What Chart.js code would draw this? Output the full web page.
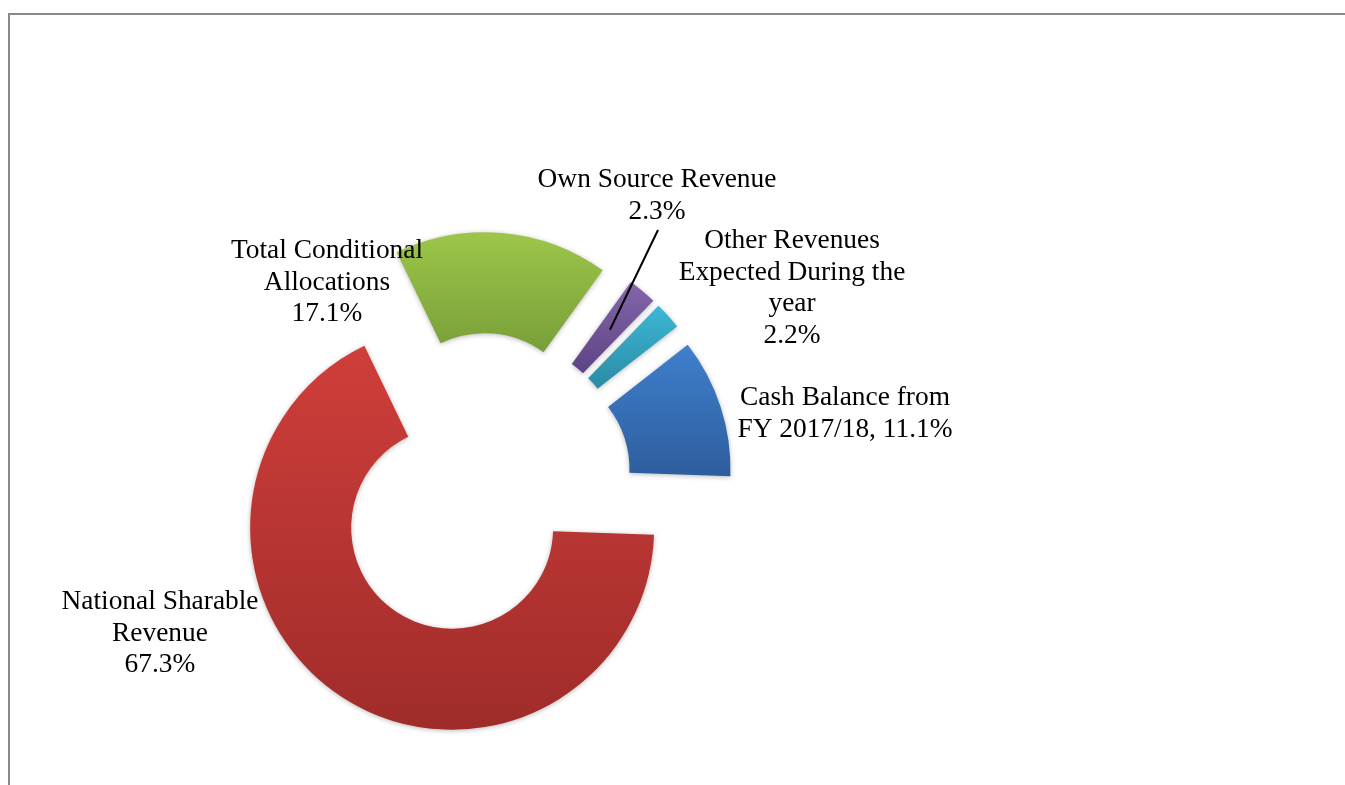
<!DOCTYPE html>
<html lang="en">
<head>
    <meta charset="UTF-8">
    <title>Sources of Revenue</title>
    <script src="https://cdn.jsdelivr.net/npm/chart.js"></script>
    <style>
        html, body {
            margin: 0;
            padding: 0;
            background: #fff;
            overflow: hidden;
        }
        .frame {
            position: absolute;
            left: 8px;
            top: 13px;
            width: 1400px;
            height: 800px;
            border-top: 2px solid #8a8a8a;
            border-left: 2px solid #8a8a8a;
        }
        .chart-box {
            position: absolute;
            left: 0;
            top: 0;
            width: 1345px;
            height: 785px;
        }
    </style>
</head>
<body>
    <div class="frame"></div>
    <div class="chart-box">
        <canvas id="revenueChart"></canvas>
    </div>

    <script>
        // Revenue sources (share of total, %)
        const categories = [
            'Cash Balance from FY 2017/18',
            'National Sharable Revenue',
            'Total Conditional Allocations',
            'Own Source Revenue',
            'Other Revenues Expected During the year'
        ];
        const shares = [11.1, 67.3, 17.1, 2.3, 2.2];

        // How each data label is wrapped; {v} is replaced by the share
        const labelLines = [
            ['Cash Balance from', 'FY 2017/18, {v}'],
            ['National Sharable', 'Revenue', '{v}'],
            ['Total Conditional', 'Allocations', '{v}'],
            ['Own Source Revenue', '{v}'],
            ['Other Revenues', 'Expected During the', 'year', '{v}']
        ];

        // Gradient colours per slice (top -> bottom)
        const topColors = ['#3f7fcc', '#cf3e3a', '#9dc649', '#8466aa', '#3db7d6'];
        const bottomColors = ['#2d5e9e', '#9f2c2a', '#789f38', '#5e4484', '#2a8ba3'];

        // Label placement relative to the doughnut centre: [dx, first baseline dy]
        const labelAnchor = [[365, -80], [-320, 124], [-153, -227], [177, -298], [312, -237]];
        const leaderFrom = { index: 3, dx: 178, dy: -255 };

        const EXPLODE = 51;
        const FONT = '27.4px "Liberation Serif", "Times New Roman", serif';
        const LINE_H = 31.6;

        // Pushes every slice out along its middle angle and gives it a vertical gradient
        const explodePlugin = {
            id: 'explode',
            afterUpdate(chart) {
                const ctx = chart.ctx;
                chart.getDatasetMeta(0).data.forEach((arc, i) => {
                    const mid = (arc.startAngle + arc.endAngle) / 2;
                    arc.x += Math.cos(mid) * EXPLODE;
                    arc.y += Math.sin(mid) * EXPLODE;

                    let minY = Infinity, maxY = -Infinity;
                    for (let k = 0; k <= 60; k++) {
                        const a = arc.startAngle + (arc.endAngle - arc.startAngle) * k / 60;
                        [arc.innerRadius, arc.outerRadius].forEach(r => {
                            const y = arc.y + Math.sin(a) * r;
                            minY = Math.min(minY, y);
                            maxY = Math.max(maxY, y);
                        });
                    }
                    const grad = ctx.createLinearGradient(0, minY, 0, maxY);
                    grad.addColorStop(0, topColors[i]);
                    grad.addColorStop(1, bottomColors[i]);
                    arc.options = Object.assign({}, arc.options, { backgroundColor: grad });
                });
            },
            beforeDatasetsDraw(chart) {
                const ctx = chart.ctx;
                ctx.save();
                ctx.shadowColor = 'rgba(0, 0, 0, 0.28)';
                ctx.shadowBlur = 5;
                ctx.shadowOffsetX = 0;
                ctx.shadowOffsetY = 1;
            },
            afterDatasetsDraw(chart) {
                chart.ctx.restore();
            }
        };

        // Data labels and the leader line
        const labelPlugin = {
            id: 'sliceLabels',
            afterDraw(chart) {
                const ctx = chart.ctx;
                const area = chart.chartArea;
                const cx = (area.left + area.right) / 2;
                const cy = (area.top + area.bottom) / 2;

                ctx.save();
                ctx.font = FONT;
                ctx.fillStyle = '#000';
                ctx.textAlign = 'center';
                ctx.textBaseline = 'alphabetic';
                labelLines.forEach((lines, i) => {
                    const value = shares[i].toFixed(1) + '%';
                    lines.forEach((line, j) => {
                        ctx.fillText(line.replace('{v}', value),
                            cx + labelAnchor[i][0], cy + labelAnchor[i][1] + j * LINE_H);
                    });
                });

                const arc = chart.getDatasetMeta(0).data[leaderFrom.index];
                const end = arc.tooltipPosition();
                ctx.strokeStyle = '#000';
                ctx.lineWidth = 2;
                ctx.beginPath();
                ctx.moveTo(cx + leaderFrom.dx, cy + leaderFrom.dy);
                ctx.lineTo(end.x, end.y);
                ctx.stroke();
                ctx.restore();
            }
        };

        const revenueChart = new Chart(document.getElementById('revenueChart'), {
            type: 'doughnut',
            data: {
                labels: categories,
                datasets: [{
                    data: shares,
                    backgroundColor: topColors,
                    borderWidth: 0
                }]
            },
            options: {
                responsive: true,
                maintainAspectRatio: false,
                animation: false,
                events: [],
                rotation: 52,
                radius: 202,
                cutout: '50%',
                layout: {
                    padding: { left: 0, right: 385, top: 185, bottom: 0 }
                },
                plugins: {
                    legend: { display: false },
                    tooltip: { enabled: false }
                }
            },
            plugins: [explodePlugin, labelPlugin]
        });
    </script>
</body>
</html>
